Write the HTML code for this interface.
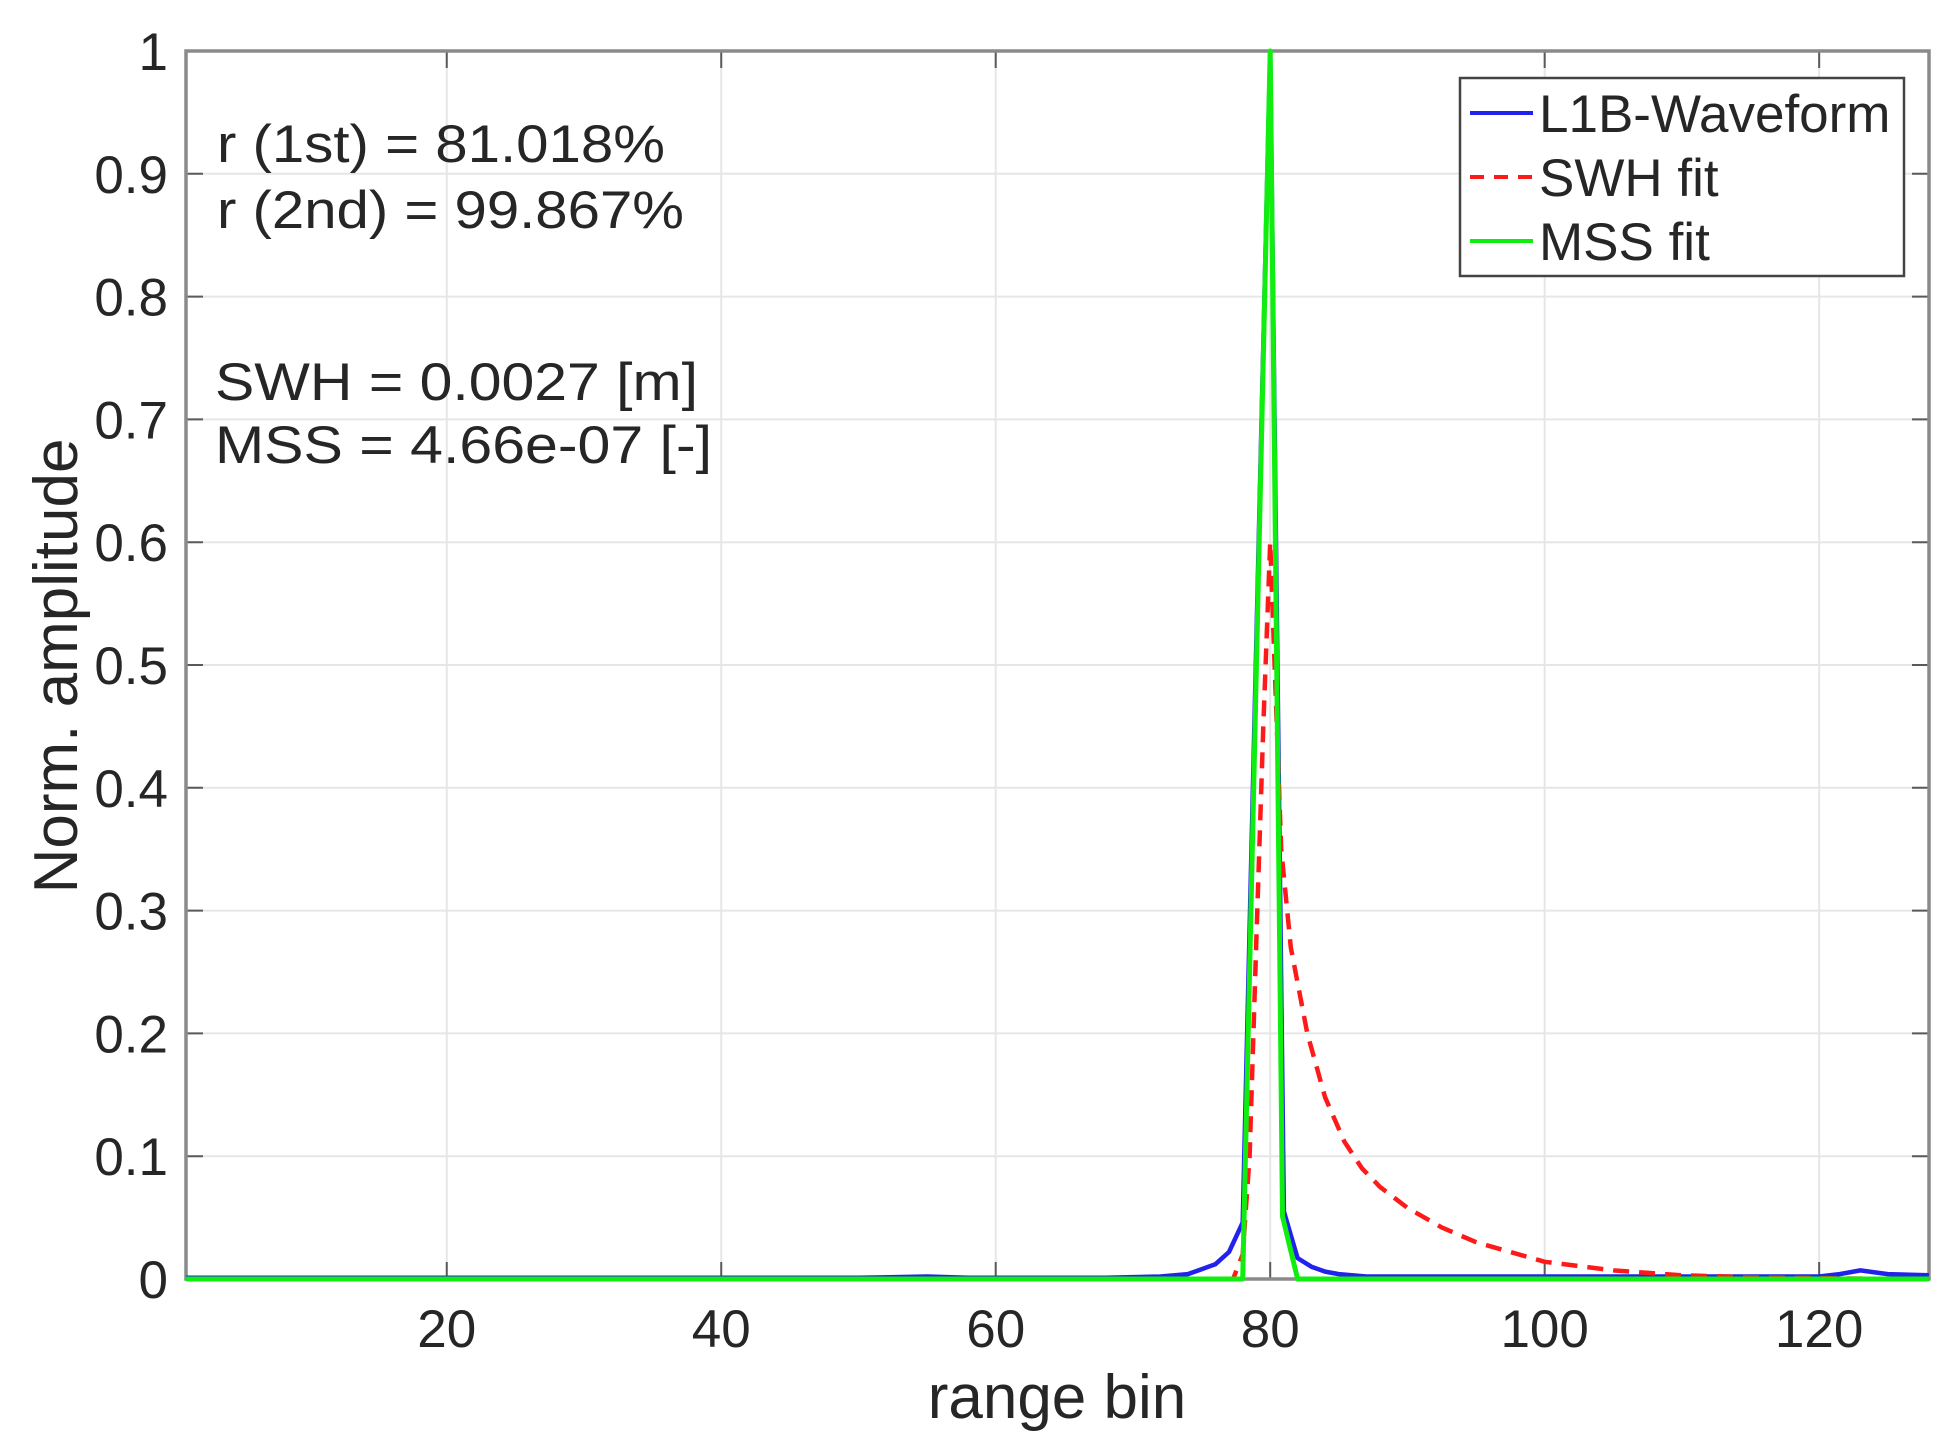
<!DOCTYPE html>
<html><head><meta charset="utf-8"><style>html,body{margin:0;padding:0;background:#fff}svg{display:block}text{font-family:"Liberation Sans",Arial,sans-serif;fill:#262626}</style></head>
<body>
<svg width="1959" height="1447" viewBox="0 0 1959 1447" xmlns="http://www.w3.org/2000/svg">
<rect width="1959" height="1447" fill="#fff"/>
<g id="grid" stroke="#e6e6e6" stroke-width="2"></g>
<g id="ticks" stroke="#5a5a5a" stroke-width="2"></g>
<rect x="186" y="51" width="1743" height="1228" fill="none" stroke="#8a8a8a" stroke-width="3.5"/>
<g id="series" fill="none" stroke-linejoin="round"></g>
<g id="labels" font-size="53"></g>
<text x="217" y="162" font-size="53" textLength="448" lengthAdjust="spacingAndGlyphs">r (1st) = 81.018%</text>
<text x="217" y="228" font-size="53" textLength="467" lengthAdjust="spacingAndGlyphs">r (2nd) = 99.867%</text>
<text x="215" y="400" font-size="53" textLength="483" lengthAdjust="spacingAndGlyphs">SWH = 0.0027 [m]</text>
<text x="215" y="463" font-size="53" textLength="497" lengthAdjust="spacingAndGlyphs">MSS = 4.66e-07 [-]</text>
<text x="1057" y="1418" font-size="62" text-anchor="middle">range bin</text>
<text transform="translate(77,666) rotate(-90)" font-size="62" text-anchor="middle">Norm. amplitude</text>
<rect x="1460" y="78" width="444" height="198" fill="#fff" stroke="#444" stroke-width="2.5"/>
<line x1="1470" y1="113" x2="1533" y2="113" stroke="#2222ee" stroke-width="4"/>
<line x1="1470" y1="177" x2="1533" y2="177" stroke="#ff1a1a" stroke-width="4" stroke-dasharray="14,10"/>
<line x1="1470" y1="241" x2="1533" y2="241" stroke="#10ee10" stroke-width="4"/>
<text x="1539" y="132" font-size="53">L1B-Waveform</text>
<text x="1539" y="196" font-size="53">SWH fit</text>
<text x="1539" y="260" font-size="53">MSS fit</text>
<script>
(function(){
var NS="http://www.w3.org/2000/svg";
function X(b){return 186+(b-1)*13.724;}
function Y(v){return 1279-v*1228;}
function el(p,t,a){var e=document.createElementNS(NS,t);for(var k in a)e.setAttribute(k,a[k]);document.getElementById(p).appendChild(e);return e;}
for(var i=1;i<10;i++){el("grid","line",{x1:186,x2:1929,y1:Y(i/10),y2:Y(i/10)});}
for(var b=20;b<=120;b+=20){el("grid","line",{x1:X(b),x2:X(b),y1:51,y2:1279});}
for(var i=0;i<=10;i++){var y=Y(i/10);el("ticks","line",{x1:186,x2:203,y1:y,y2:y});el("ticks","line",{x1:1912,x2:1929,y1:y,y2:y});
var t=el("labels","text",{x:168,y:y+19,"text-anchor":"end"});t.textContent=(i==0?"0":i==10?"1":"0."+i);}
for(var b=20;b<=120;b+=20){var x=X(b);el("ticks","line",{x1:x,x2:x,y1:1279,y2:1262});el("ticks","line",{x1:x,x2:x,y1:51,y2:68});
var t=el("labels","text",{x:x,y:1347,"text-anchor":"middle"});t.textContent=b;}
function path(pts,attrs){var d="";pts.forEach(function(p,i){d+=(i?"L":"M")+X(p[0]).toFixed(1)+","+Y(p[1]).toFixed(1);});attrs.d=d;el("series","path",attrs);}
var blue=[[1,0.001],[50,0.001],[55,0.002],[58,0.001],[68,0.001],[72,0.002],[74,0.004],[75,0.008],[76,0.012],[77,0.022],[78,0.046],[80,1],[81,0.055],[82,0.017],[83,0.01],[84,0.006],[85,0.004],[87,0.002],[120,0.002],[121.5,0.004],[123,0.007],[125,0.004],[128,0.003]];
path(blue,{stroke:"#2222ee","stroke-width":4.5});
var rp=[[1,0],[77.3,0],[78,0.02],[78.5,0.1],[79,0.28],[79.5,0.45],[80,0.6]];
var tail=[[0,0.6],[0.8,0.35],[1.5,0.27],[2.7,0.2],[4,0.148],[5.4,0.112],[6.7,0.09],[8,0.075],[10,0.058],[12.5,0.042],[15,0.03],[20,0.014],[25,0.007],[30,0.003],[35,0.0015],[45,0]];
tail.forEach(function(p,i){if(i)rp.push([80+p[0],p[1]]);});rp.push([128,0]);
path(rp,{stroke:"#ff1a1a","stroke-width":4.5,"stroke-dasharray":"16,10"});
var green=[[1,0],[78,0],[80,1],[80.9,0.051],[82,0],[128,0]];
path(green,{stroke:"#10ee10","stroke-width":5});
})();
</script>
</svg>
</body></html>
